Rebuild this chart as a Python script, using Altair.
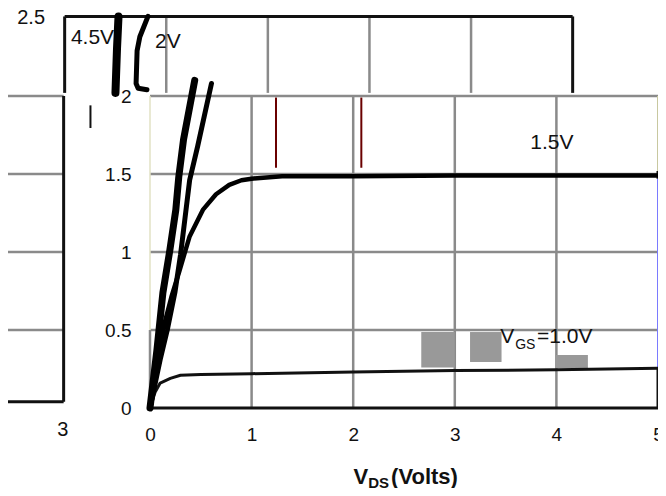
import altair as alt
import pandas as pd

FONT = "Liberation Sans"

# ---- curves: V_DS (V) vs I_D (A) ----
vgs45_v = [0, 0.068, 0.127, 0.195, 0.254, 0.283, 0.33, 0.44]
vgs45_i = [0, 0.37, 0.74, 1.01, 1.27, 1.48, 1.72, 2.10]
vgs20_v = [0, 0.10, 0.17, 0.245, 0.30, 0.345, 0.39, 0.47, 0.605]
vgs20_i = [0, 0.31, 0.50, 0.74, 0.98, 1.22, 1.46, 1.68, 2.08]
vgs15_v = [0, 0.05, 0.10, 0.15, 0.21, 0.29, 0.39, 0.52, 0.65, 0.78, 0.90, 1.0, 1.3, 2.0, 3.0, 4.0, 5.0]
vgs15_i = [0, 0.20, 0.40, 0.56, 0.71, 0.88, 1.10, 1.27, 1.37, 1.43, 1.46, 1.47, 1.485, 1.485, 1.49, 1.49, 1.49]
vgs10_v = [0, 0.05, 0.10, 0.20, 0.30, 0.50, 1.0, 2.0, 3.0, 4.0, 5.0]
vgs10_i = [0, 0.10, 0.16, 0.19, 0.21, 0.215, 0.22, 0.23, 0.24, 0.245, 0.255]

# displaced fragments of the upper strip
frag45_v = [-0.31, -0.325, -0.34]
frag45_i = [2.51, 2.30, 2.02]
frag20_v = [-0.02, -0.10, -0.127, -0.137, -0.117, -0.03]
frag20_i = [2.51, 2.38, 2.29, 2.08, 2.05, 2.04]

# ---- axes ----
x_ticks = [0, 1, 2, 3, 4, 5]
y_ticks = [0, 0.5, 1.0, 1.5, 2.0]

# ---- grid / frame ----
grid_h = [0.5, 1.0, 1.5, 2.0]
grid_v = [1, 2, 3, 4]
strip_v = [0.16, 1.16, 2.16, 3.16]
strip_left, strip_right, strip_bot, strip_top = -0.84, 4.16, 2.02, 2.51
stub_left, stub_right, stub_bot = -1.45, -0.85, 0.04

# grey artefact boxes (V range, I range)
box_x = [2.67, 3.15, 3.99]
box_x2 = [3.0, 3.46, 4.31]
box_y = [0.26, 0.295, 0.256]
box_y2 = [0.487, 0.487, 0.34]

xs = alt.Scale(domain=[0, 5], nice=False, zero=False)
ys = alt.Scale(domain=[0, 2.5], nice=False, zero=False)
xaxis = alt.Axis(values=x_ticks, format="d", title=None, grid=False, domain=False,
                 ticks=False, tickSize=0, labelPadding=17, labelFontSize=19,
                 labelFont=FONT, labelColor="#111", labelFlush=False, labelOverlap=False)
yaxis = alt.Axis(values=y_ticks, format=".1~f", title=None, grid=False, domain=False,
                 ticks=False, tickSize=0, labelPadding=19, labelFontSize=19,
                 labelFont=FONT, labelColor="#111", labelFlush=False, labelOverlap=False)


def X(f="x"):
    return alt.X(f"{f}:Q", scale=xs, axis=xaxis)


def Y(f="y"):
    return alt.Y(f"{f}:Q", scale=ys, axis=yaxis)


def segs(xv, x2v, yv, y2v, color, width):
    df = pd.DataFrame({"x": xv, "x2": x2v, "y": yv, "y2": y2v})
    return alt.Chart(df).mark_rule(color=color, strokeWidth=width, clip=False).encode(
        x=X(), x2="x2:Q", y=Y(), y2="y2:Q")


def curve(v, i, color, width):
    df = pd.DataFrame({"x": v, "y": i, "o": list(range(len(v)))})
    return alt.Chart(df).mark_line(color=color, strokeWidth=width, clip=False,
                                   strokeJoin="round", strokeCap="round").encode(
        x=X(), y=Y(), order="o:Q")


def label(txt, xv, yv, size, weight="normal", align="center", color="#111"):
    df = pd.DataFrame({"x": [xv], "y": [yv], "t": [txt]})
    return alt.Chart(df).mark_text(font=FONT, fontSize=size, fontWeight=weight, align=align,
                                   baseline="middle", color=color, clip=False).encode(
        x=X(), y=Y(), text="t:N")


GRID = "#8a8a8a"
n = len(grid_h)
layers = [
    # main grid
    segs([0] * n, [5] * n, grid_h, grid_h, GRID, 2.5),
    segs(grid_v, grid_v, [0] * 4, [2.0] * 4, GRID, 2.5),
    # main frame
    segs([0], [0], [0], [0.5], GRID, 2.5),
    segs([0], [0], [0.5], [2.0], "#e2e2c4", 1.5),
    segs([5], [5], [0], [0.26], "#111", 3),
    segs([5], [5], [0.26], [1.47], "#7a7aff", 2),
    segs([5], [5], [1.47], [1.52], "#111", 3),
    segs([5], [5], [1.52], [2.0], "#c8c8a0", 2),
    segs([0], [5], [0], [0], "#111", 3),
    # displaced upper strip
    segs(strip_v, strip_v, [strip_bot] * 4, [strip_top] * 4, GRID, 2.5),
    segs([strip_left], [strip_right], [strip_top], [strip_top], "#111", 3),
    segs([strip_left, strip_right], [strip_left, strip_right], [strip_bot] * 2, [strip_top] * 2, "#111", 3),
    # displaced left stub
    segs([stub_left] * n, [stub_right] * n, grid_h, grid_h, GRID, 2.5),
    segs([stub_right], [stub_right], [stub_bot], [2.0], "#111", 3),
    segs([stub_left], [stub_right], [stub_bot], [stub_bot], "#111", 3),
    # small stray marks
    segs([-0.586], [-0.586], [1.795], [1.94], "#111", 2),
    segs([1.24, 2.08], [1.24, 2.08], [1.54, 1.54], [1.99, 1.99], "#6a0000", 2),
    # grey boxes
    alt.Chart(pd.DataFrame({"x": box_x, "x2": box_x2, "y": box_y, "y2": box_y2}))
    .mark_rect(color="#999999", clip=False).encode(x=X(), x2="x2:Q", y=Y(), y2="y2:Q"),
    # curves
    curve(vgs10_v, vgs10_i, "#111", 3),
    curve(vgs15_v, vgs15_i, "#000", 4.5),
    curve(vgs20_v, vgs20_i, "#000", 5),
    curve(vgs45_v, vgs45_i, "#000", 7),
    curve(frag45_v, frag45_i, "#000", 8),
    curve(frag20_v, frag20_i, "#000", 5),
    # labels
    label("2.5", -1.17, 2.5, 20),
    label("3", -0.859, -0.141, 20),
    label("4.5V", -0.566, 2.372, 21),
    label("2V", 0.176, 2.346, 21),
    label("1.5V", 3.955, 1.699, 21),
    label("V", 3.447, 0.455, 21, align="left"),
    label("GS", 3.594, 0.404, 14, align="left"),
    label("=1.0V", 3.809, 0.455, 21, align="left"),
    label("V", 2.002, -0.445, 22, weight="bold", align="left"),
    label("DS", 2.148, -0.48, 15, weight="bold", align="left"),
    label("(Volts)", 2.373, -0.445, 22, weight="bold", align="left"),
]

chart = alt.layer(*layers).properties(
    width=508, height=390,
    autosize=alt.AutoSizeParams(type="none"),
    padding={"left": 142, "top": 10, "right": 0, "bottom": 80},
    background="white",
).configure_view(stroke=None)

chart.save("out.html", embed_options={"renderer": "svg", "actions": False})
